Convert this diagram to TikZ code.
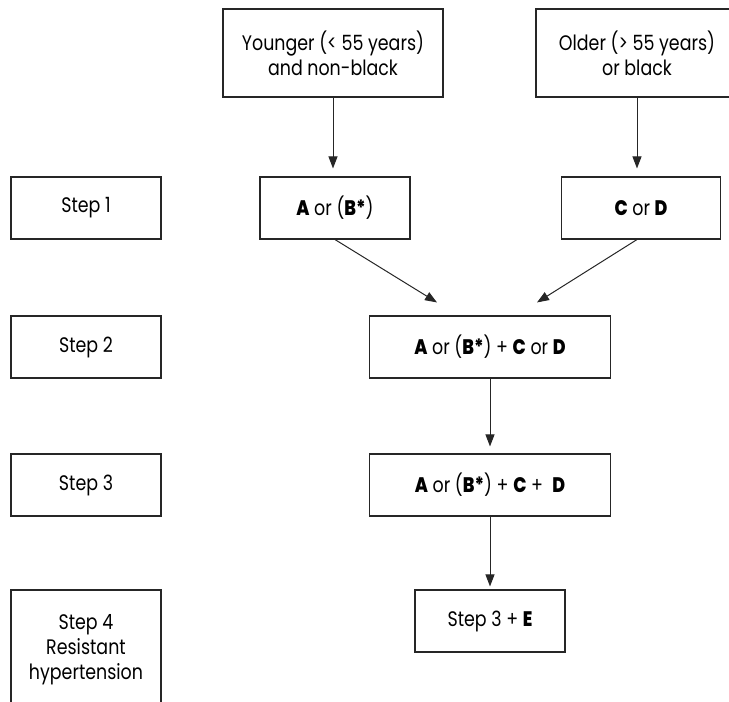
\documentclass[tikz,border=0pt]{standalone}
\usepackage{fontspec}
\setmainfont{Poppins}[FakeStretch=0.83,BoldFont={Poppins ExtraBold}]
\usetikzlibrary{arrows.meta,calc}
\begin{document}
\begin{tikzpicture}[x=1pt,y=-1pt,
  every node/.style={font=\fontsize{21}{25}\selectfont},
  box/.style={draw=black!85,line width=1.1pt,rectangle,align=center,inner sep=0pt},
  stepbox/.style={box,minimum width=150pt,minimum height=62pt},
  arr/.style={draw=black!85,line width=1pt,-{Triangle[length=12pt,width=9pt]}}]
\useasboundingbox (0,0) rectangle (729,702);
\clip (0,0) rectangle (729,702);
% patient groups
\node[box,minimum width=220pt,minimum height=88pt] (young) at (333,53) {Younger (< 55 years)\\and non-black};
\node[box,minimum width=202pt,minimum height=88pt] (old) at (637,53) {Older (> 55 years)\\or black};
% step labels
\node[stepbox] (s1) at (86,208) {Step 1};
\node[stepbox] (s2) at (86,347) {Step 2};
\node[stepbox] (s3) at (86,485) {Step 3};
\node[stepbox,minimum height=120pt] (s4) at (86,650) {Step 4\\Resistant\\hypertension};
% treatment boxes
\node[stepbox] (ab) at (335,208) {\textbf{A} or (\textbf{B*})};
\node[stepbox,minimum width=159pt] (cd) at (641,208) {\textbf{C} or \textbf{D}};
\node[stepbox,minimum width=241pt] (t2) at (490,347) {\textbf{A} or (\textbf{B*}) + \textbf{C} or \textbf{D}};
\node[stepbox,minimum width=241pt] (t3) at (490,485) {\textbf{A} or (\textbf{B*}) + \textbf{C} +~ \textbf{D}};
\node[stepbox] (t4) at (490,621) {Step 3 + \textbf{E}};
% connectors
\coordinate (inL) at ($(t2.north)+(-53,-13)$);
\coordinate (inR) at ($(t2.north)+(47,-13)$);
\draw[arr,shorten >=8pt] (young.south) -- (young.south |- ab.north);
\draw[arr,shorten >=8pt] (old.south) -- (old.south |- cd.north);
\draw[arr] (ab.south) -- (inL);
\draw[arr] (old.south |- cd.south) -- (inR);
\draw[arr,shorten >=7pt] (t2.south) -- (t3.north);
\draw[arr,shorten >=3pt] (t3.south) -- (t4.north);
\end{tikzpicture}
\end{document}
